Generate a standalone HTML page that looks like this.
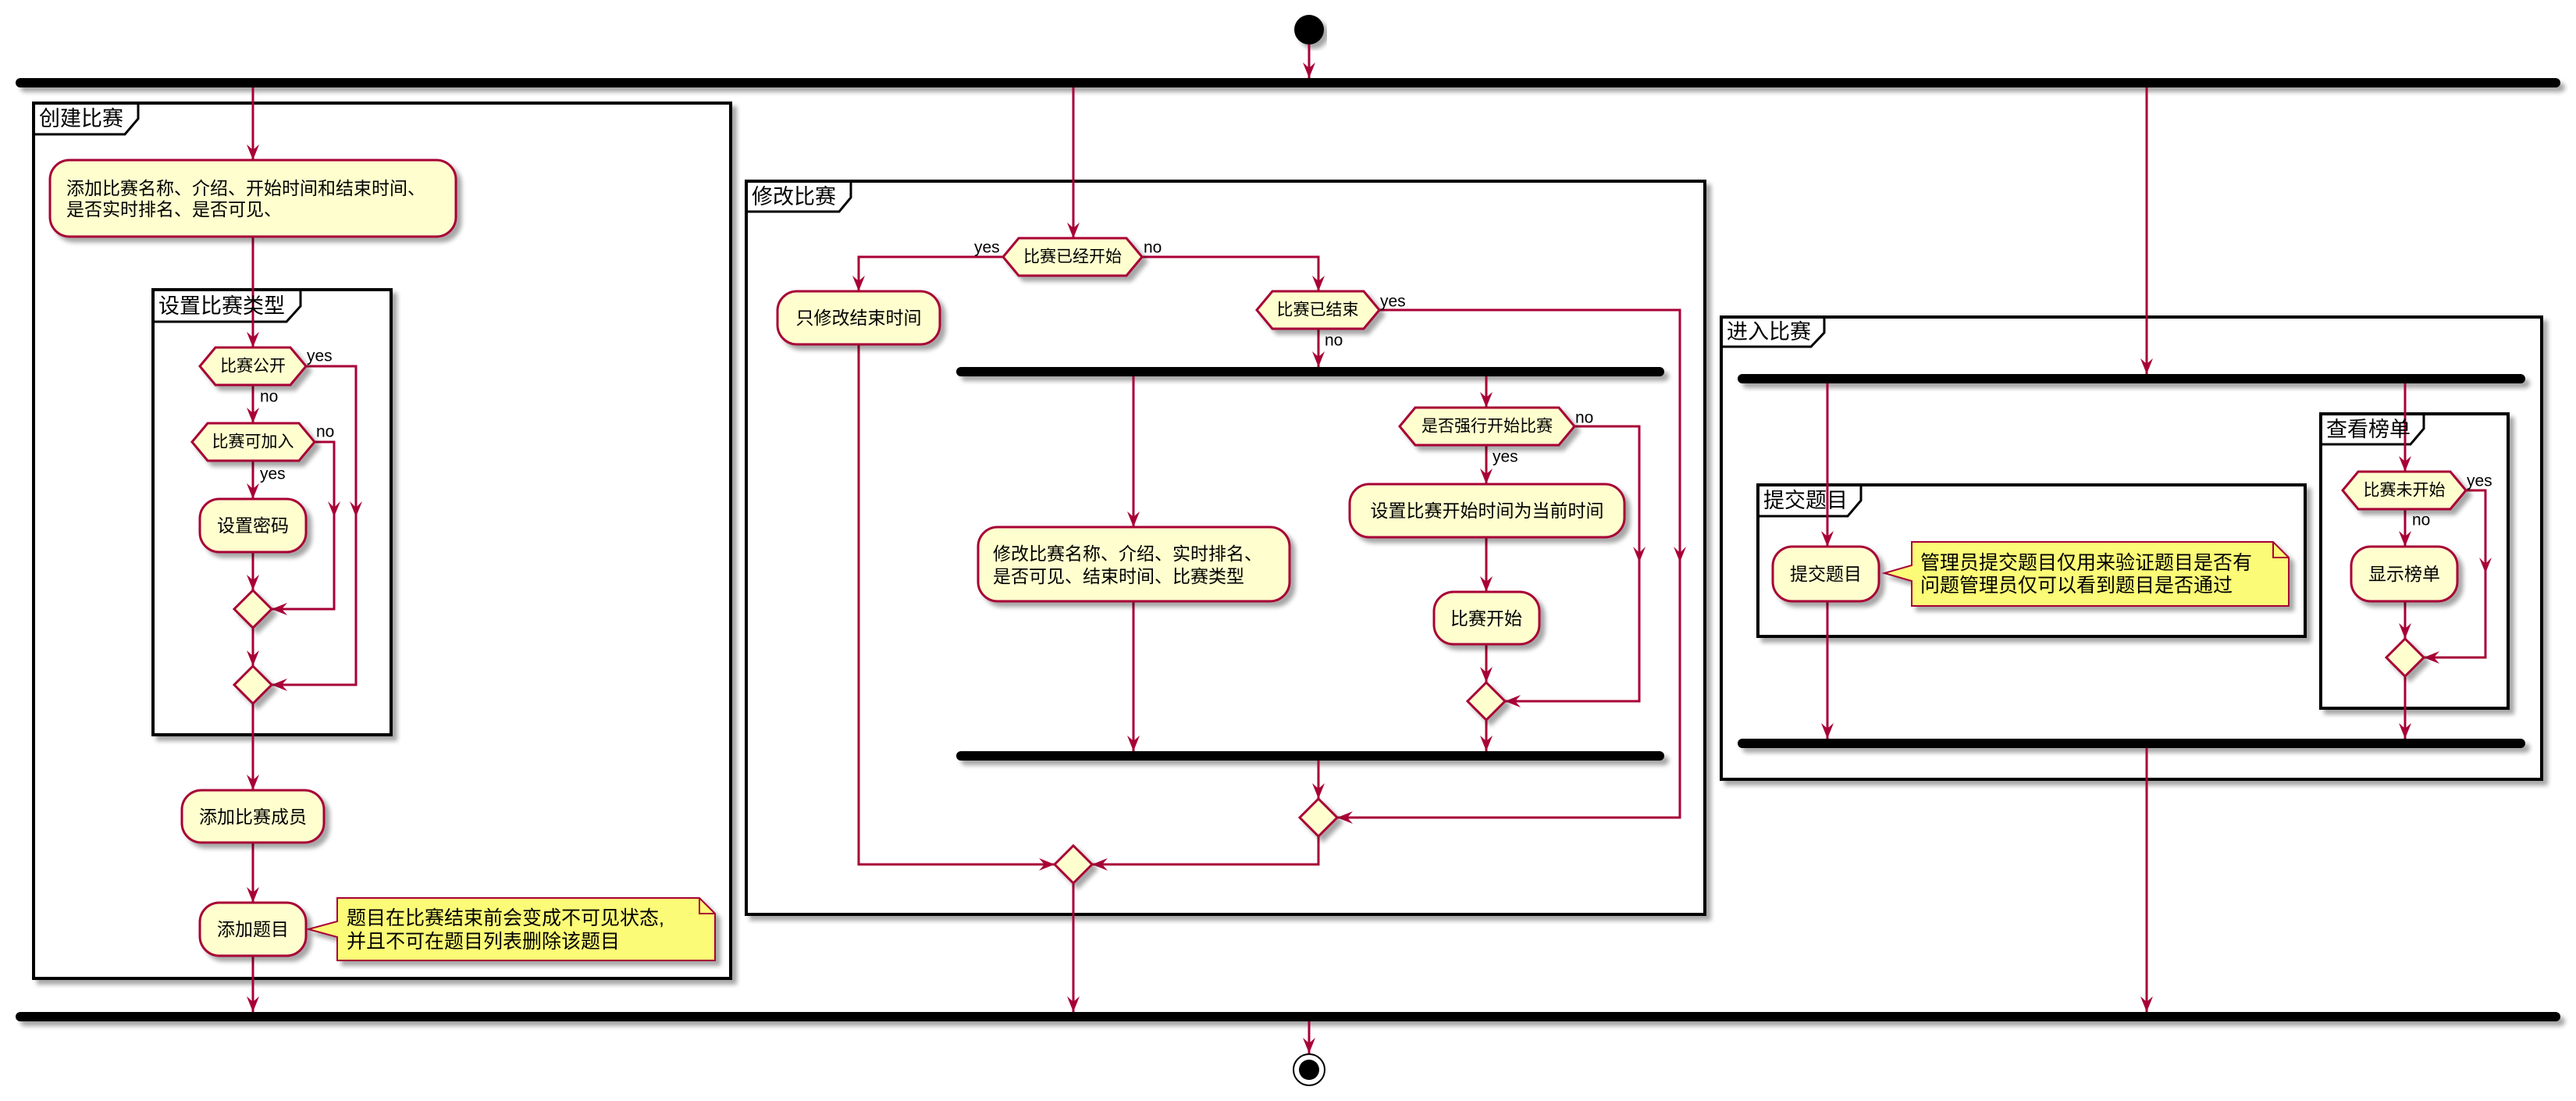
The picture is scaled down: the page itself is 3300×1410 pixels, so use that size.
<!DOCTYPE html>
<html><head><meta charset="utf-8"><style>
html,body{margin:0;padding:0;background:#fff;}
svg{display:block;}
text{font-family:"Liberation Sans","Noto Sans CJK SC",sans-serif;fill:#000;}
.a{font-size:23px;}
.d{font-size:21px;}
.n{font-size:25px;}
.f{font-size:27px;}
.l{font-size:21px;}
</style></head><body>
<svg width="3300" height="1410" viewBox="0 0 3300 1410" xmlns="http://www.w3.org/2000/svg">
<defs>
<marker id="ar" markerUnits="userSpaceOnUse" markerWidth="22" markerHeight="18" refX="20" refY="8" orient="auto"><path d="M0,0 L20,8 L0,16 L7,8 Z" fill="#A80036"/></marker>
<filter id="sh" x="-5%" y="-5%" width="115%" height="125%"><feGaussianBlur in="SourceAlpha" stdDeviation="3"/><feOffset dx="6" dy="6"/><feComponentTransfer><feFuncA type="linear" slope="0.35"/></feComponentTransfer><feMerge><feMergeNode/><feMergeNode in="SourceGraphic"/></feMerge></filter>
</defs>
<g fill="none" stroke="#A80036" stroke-width="3">
<!-- frames -->
<g stroke="#000" stroke-width="4" fill="#fff" filter="url(#sh)">
<rect x="43" y="132" width="893" height="1121"/>
<rect x="956" y="232" width="1228" height="939"/>
<rect x="2205" y="406" width="1051" height="592"/>
</g>
<g stroke="#000" stroke-width="3" fill="none">
<path d="M43,172 H160 L177,152 V132"/>
<path d="M956,271 H1075 L1090,253 V232"/>
<path d="M2205,444 H2320 L2337,426 V406"/>
</g>
<g stroke="#000" stroke-width="4" fill="#fff" filter="url(#sh)">
<rect x="196" y="371" width="305" height="570"/>
<rect x="2252" y="621" width="701" height="194"/>
<rect x="2973" y="530" width="240" height="377"/>
</g>
<g stroke="#000" stroke-width="3" fill="none">
<path d="M196,412 H367 L385,392 V371"/>
<path d="M2252,661 H2367 L2384,641 V621"/>
<path d="M2973,569 H3088 L3105,549 V530"/>
</g>
<!-- bars -->
<g fill="#000" stroke="none" filter="url(#sh)">
<rect x="20" y="100" width="3260" height="12" rx="6"/>
<rect x="20" y="1296" width="3260" height="12" rx="6"/>
<rect x="1225" y="470" width="907" height="12" rx="6"/>
<rect x="1225" y="962" width="907" height="12" rx="6"/>
<rect x="2226" y="479" width="1009" height="12" rx="6"/>
<rect x="2226" y="946" width="1009" height="12" rx="6"/>
</g>
<!-- start/end -->
<circle cx="1677" cy="38" r="19" fill="#000" stroke="none" filter="url(#sh)"/>
<circle cx="1677" cy="1370" r="20" fill="#fff" stroke="#000" stroke-width="2"/>
<circle cx="1677" cy="1370" r="13" fill="#000" stroke="none"/>
<!-- connectors -->
<g marker-end="url(#ar)">
<path d="M1677,57 V100"/>
<path d="M1677,1308 V1349"/>
<path d="M324,112 V205"/>
<path d="M1375,112 V305"/>
<path d="M2750,112 V479"/>
<!-- frame1 -->
<path d="M324,303 V445"/>
<path d="M324,493 V542"/>
<path d="M324,590 V639"/>
<path d="M403,566 H428 V780 H348"/>
<path d="M392,469 H456 V877 H348"/>
<path d="M324,707 V756"/>
<path d="M324,804 V853"/>
<path d="M324,901 V1012"/>
<path d="M324,1079 V1156"/>
<path d="M324,1224 V1296"/>
<!-- frame2 -->
<path d="M1285,329 H1100 V373"/>
<path d="M1463,329 H1689 V373"/>
<path d="M1689,421 V470"/>
<path d="M1767,397 H2152 V1047 H1713"/>
<path d="M1452,482 V675"/>
<path d="M1452,770 V962"/>
<path d="M1904,482 V522"/>
<path d="M2017,546 H2100 V898 H1928"/>
<path d="M1904,570 V620"/>
<path d="M1904,688 V758"/>
<path d="M1904,825 V874"/>
<path d="M1904,922 V962"/>
<path d="M1689,974 V1023"/>
<path d="M1689,1071 V1107 H1399"/>
<path d="M1100,441 V1107 H1351"/>
<path d="M1375,1131 V1296"/>
<!-- frame3 -->
<path d="M2341,491 V700"/>
<path d="M2341,770 V946"/>
<path d="M3081,491 V604"/>
<path d="M3081,652 V700"/>
<path d="M3081,770 V818"/>
<path d="M3159,628 H3184 V842 H3105"/>
<path d="M3081,866 V946"/>
<path d="M2750,958 V1296"/>
</g>
<!-- mid arrowheads -->
<g fill="#A80036" stroke="none">
<path d="M448,642 L456,662 L464,642 L456,650 Z"/>
<path d="M420,642 L428,662 L436,642 L428,650 Z"/>
<path d="M2092,700 L2100,720 L2108,700 L2100,708 Z"/>
<path d="M2144,700 L2152,720 L2160,700 L2152,708 Z"/>
<path d="M3176,714 L3184,734 L3192,714 L3184,722 Z"/>
</g>
<!-- activities -->
<g fill="#FEFECE" stroke="#A80036" stroke-width="3" filter="url(#sh)">
<rect x="64" y="205" width="520" height="98" rx="25"/>
<rect x="256" y="639" width="136" height="68" rx="25"/>
<rect x="233" y="1012" width="182" height="67" rx="25"/>
<rect x="256" y="1156" width="136" height="68" rx="25"/>
<rect x="996" y="373" width="208" height="68" rx="25"/>
<rect x="1253" y="675" width="399" height="95" rx="25"/>
<rect x="1729" y="620" width="352" height="68" rx="25"/>
<rect x="1837" y="758" width="135" height="67" rx="25"/>
<rect x="2271" y="700" width="136" height="70" rx="25"/>
<rect x="3012" y="700" width="136" height="70" rx="25"/>
<polygon points="256,469 276,445 372,445 392,469 372,493 276,493"/>
<polygon points="246,566 266,542 383,542 403,566 383,590 266,590"/>
<polygon points="1285,329 1305,305 1443,305 1463,329 1443,353 1305,353"/>
<polygon points="1610,397 1630,373 1747,373 1767,397 1747,421 1630,421"/>
<polygon points="1793,546 1813,522 1997,522 2017,546 1997,570 1813,570"/>
<polygon points="3001,628 3021,604 3139,604 3159,628 3139,652 3021,652"/>
<polygon points="324,756 348,780 324,804 300,780"/>
<polygon points="324,853 348,877 324,901 300,877"/>
<polygon points="1904,874 1928,898 1904,922 1880,898"/>
<polygon points="1689,1023 1713,1047 1689,1071 1665,1047"/>
<polygon points="1375,1083 1399,1107 1375,1131 1351,1107"/>
<polygon points="3081,818 3105,842 3081,866 3057,842"/>
</g>
<!-- notes -->
<g fill="#FBFB77" stroke="#A80036" stroke-width="2" filter="url(#sh)">
<path d="M432,1150 H896 L916,1170 V1230 H432 V1200 L395,1190 L432,1180 Z"/>
<path d="M2449,694 H2912 L2932,714 V776 H2449 V744 L2414,734 L2449,724 Z"/>
</g>
<g fill="none" stroke="#A80036" stroke-width="2">
<path d="M896,1150 V1170 H916"/>
<path d="M2912,694 V714 H2932"/>
</g>
</g>
<!-- texts -->
<g dominant-baseline="central">
<text class="f" x="50" y="152">创建比赛</text>
<text class="f" x="203" y="392">设置比赛类型</text>
<text class="f" x="963" y="252">修改比赛</text>
<text class="f" x="2212" y="425">进入比赛</text>
<text class="f" x="2259" y="641">提交题目</text>
<text class="f" x="2980" y="550">查看榜单</text>

<text class="a" x="85" y="241">添加比赛名称、介绍、开始时间和结束时间、</text>
<text class="a" x="85" y="268">是否实时排名、是否可见、</text>
<text class="a" x="324" y="673" text-anchor="middle">设置密码</text>
<text class="a" x="324" y="1046" text-anchor="middle">添加比赛成员</text>
<text class="a" x="324" y="1190" text-anchor="middle">添加题目</text>
<text class="a" x="1100" y="407" text-anchor="middle">只修改结束时间</text>
<text class="a" x="1272" y="709">修改比赛名称、介绍、实时排名、</text>
<text class="a" x="1272" y="738">是否可见、结束时间、比赛类型</text>
<text class="a" x="1905" y="654" text-anchor="middle">设置比赛开始时间为当前时间</text>
<text class="a" x="1904" y="792" text-anchor="middle">比赛开始</text>
<text class="a" x="2339" y="735" text-anchor="middle">提交题目</text>
<text class="a" x="3080" y="735" text-anchor="middle">显示榜单</text>

<text class="d" x="324" y="469" text-anchor="middle">比赛公开</text>
<text class="d" x="324" y="566" text-anchor="middle">比赛可加入</text>
<text class="d" x="1374" y="329" text-anchor="middle">比赛已经开始</text>
<text class="d" x="1688" y="397" text-anchor="middle">比赛已结束</text>
<text class="d" x="1905" y="546" text-anchor="middle">是否强行开始比赛</text>
<text class="d" x="3080" y="628" text-anchor="middle">比赛未开始</text>

<text class="n" x="444" y="1176">题目在比赛结束前会变成不可见状态,</text>
<text class="n" x="444" y="1206">并且不可在题目列表删除该题目</text>
<text class="n" x="2460" y="721">管理员提交题目仅用来验证题目是否有</text>
<text class="n" x="2460" y="750">问题管理员仅可以看到题目是否通过</text>

<text class="l" x="393" y="456">yes</text>
<text class="l" x="333" y="508">no</text>
<text class="l" x="405" y="553">no</text>
<text class="l" x="333" y="607">yes</text>
<text class="l" x="1248" y="317">yes</text>
<text class="l" x="1465" y="317">no</text>
<text class="l" x="1768" y="386">yes</text>
<text class="l" x="1697" y="436">no</text>
<text class="l" x="2018" y="535">no</text>
<text class="l" x="1912" y="585">yes</text>
<text class="l" x="3160" y="616">yes</text>
<text class="l" x="3090" y="666">no</text>
</g>
</svg>
</body></html>
